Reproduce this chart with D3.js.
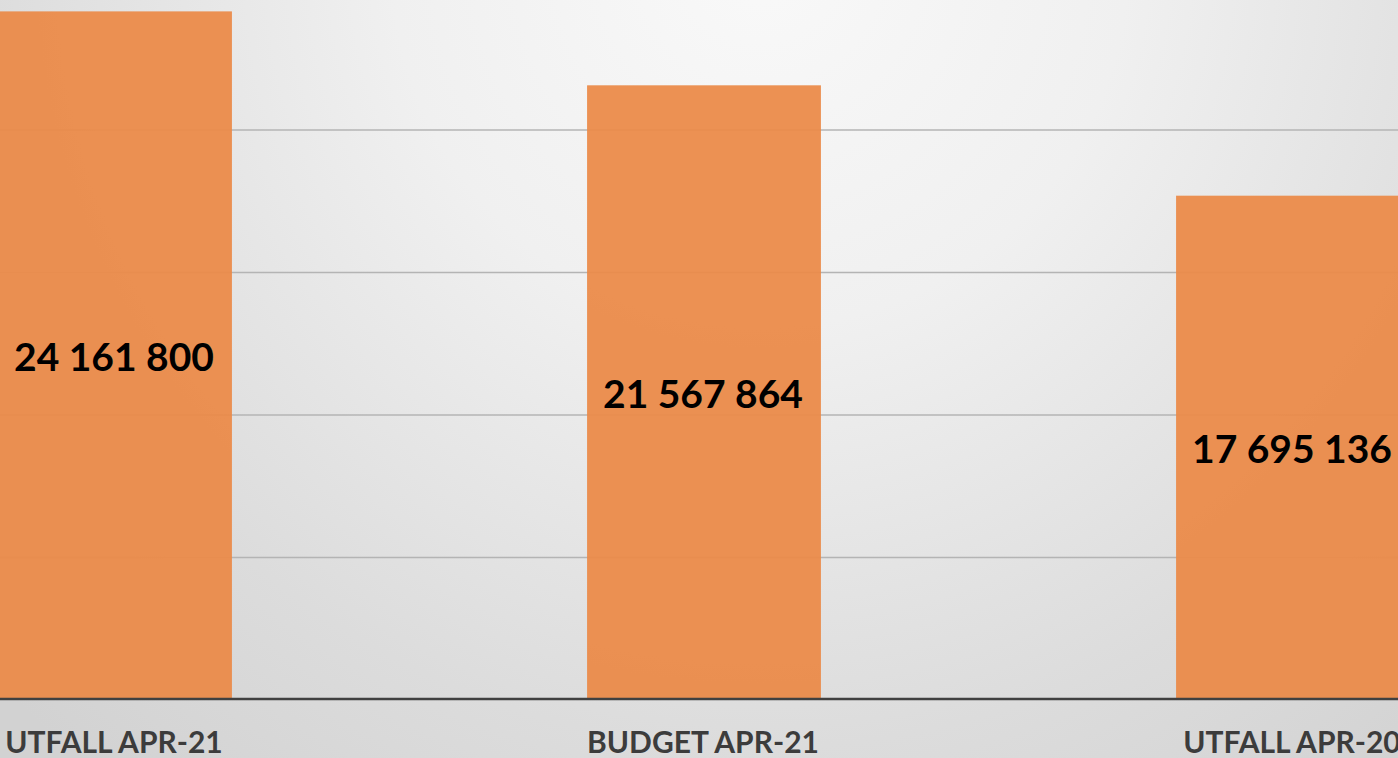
<!DOCTYPE html>
<html><head><meta charset="utf-8">
<script src="https://cdn.jsdelivr.net/npm/d3@7"></script>
<style>html,body{margin:0;padding:0;overflow:hidden;background:#e6e6e6}</style>
</head><body>
<svg id="chart" width="1398" height="758"></svg>
<script>
const categories = ["UTFALL APR-21", "BUDGET APR-21", "UTFALL APR-20"];
const values = [24161800, 21567864, 17695136];
const valueLabels = ["24 161 800", "21 567 864", "17 695 136"];
const gridTicks = [5000000, 10000000, 15000000, 20000000];

const W = 1398, H = 758;
const svg = d3.select("#chart");
const defs = svg.append("defs");
const rg = defs.append("radialGradient").attr("id","bg")
  .attr("gradientUnits","userSpaceOnUse")
  .attr("cx",760).attr("cy",-40).attr("r",1050);
rg.append("stop").attr("offset","0").attr("stop-color","#f9f9f9");
rg.append("stop").attr("offset","0.35").attr("stop-color","#f0f0f0");
rg.append("stop").attr("offset","0.75").attr("stop-color","#dcdcdc");
rg.append("stop").attr("offset","1").attr("stop-color","#d2d2d2");
svg.append("rect").attr("width",W).attr("height",H).attr("fill","url(#bg)");

const x = d3.scaleBand().domain(categories)
  .range([-179.5, 1587.5]).paddingInner(0.603).paddingOuter(0.3015);
const y = d3.scaleLinear().domain([0, 20000000]).range([700, 130]);

// gridlines
svg.append("g").selectAll("line").data(gridTicks).join("line")
  .attr("x1",0).attr("x2",W)
  .attr("y1",d=>y(d)).attr("y2",d=>y(d))
  .attr("stroke","#b4b4b4").attr("stroke-width",1.5);

// bars
svg.append("g").selectAll("rect").data(values).join("rect")
  .attr("x",(d,i)=>x(categories[i]))
  .attr("width",x.bandwidth())
  .attr("y",d=>y(d))
  .attr("height",d=>y(0)-y(d))
  .attr("fill","#eb8a48")
  .attr("fill-opacity",0.94);

// axis line
svg.append("line").attr("x1",0).attr("x2",W)
  .attr("y1",y(0)-1).attr("y2",y(0)-1)
  .attr("stroke","#404040").attr("stroke-width",2.5);

// value labels
svg.append("g").selectAll("text").data(values).join("text")
  .attr("x",(d,i)=>x(categories[i])+x.bandwidth()/2 - 1)
  .attr("y",d=>(y(d)+y(0))/2)
  .attr("text-anchor","middle").attr("dominant-baseline","central")
  .attr("font-family","Lato, 'Open Sans', sans-serif").attr("font-weight","bold")
  .attr("font-size",39).attr("fill","#000")
  .text((d,i)=>valueLabels[i]);

// category labels
svg.append("g").selectAll("text").data(categories).join("text")
  .attr("x",d=>x(d)+x.bandwidth()/2 - 1)
  .attr("y",753)
  .attr("text-anchor","middle")
  .attr("font-family","Lato, 'Open Sans', sans-serif").attr("font-weight","bold")
  .attr("font-size",30).attr("fill","#3c3c3c")
  .text(d=>d);
</script>
</body></html>
